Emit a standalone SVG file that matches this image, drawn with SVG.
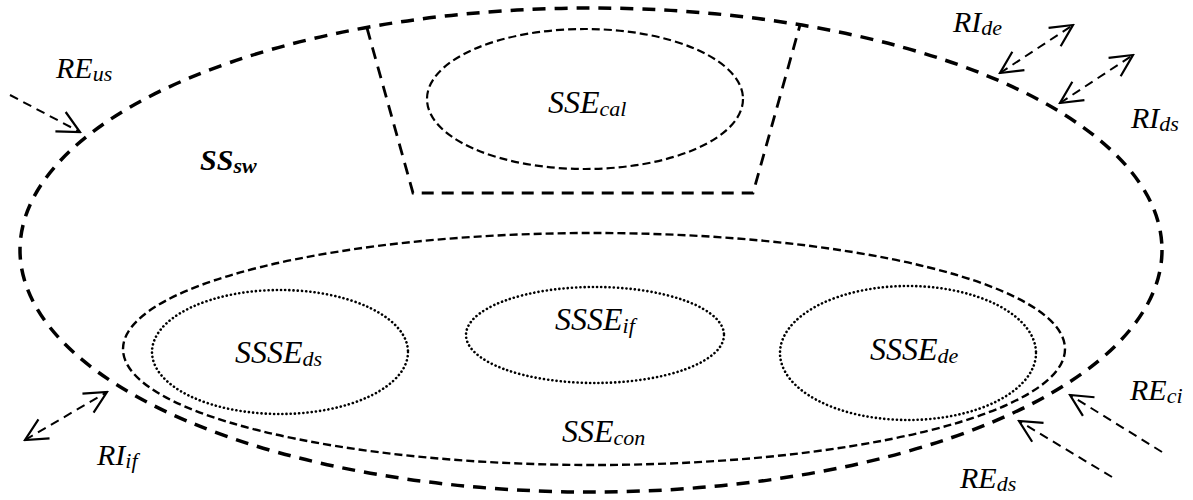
<svg xmlns="http://www.w3.org/2000/svg" width="1193" height="500" viewBox="0 0 1193 500">
<style>
.outer{fill:none;stroke:#000;stroke-width:3.5;stroke-dasharray:13 9}
.trap{fill:none;stroke:#000;stroke-width:2.8;stroke-dasharray:12 8}
.inner{fill:none;stroke:#000;stroke-width:2.4;stroke-dasharray:8 4}
.dot{fill:none;stroke:#000;stroke-width:2.6;stroke-linecap:round;stroke-dasharray:0.1 4.1}
.arr{fill:none;stroke:#000;stroke-width:2;stroke-dasharray:9 6}
text{font-family:"Liberation Serif","Times New Roman",serif;font-style:italic;fill:#000}
.big{font-size:32px}
.out{font-size:30px}
.sub{font-size:22px}
.bold{font-weight:bold}
</style>
<defs>
<marker id="head" viewBox="-25 -13 27 26" markerWidth="27" markerHeight="26" refX="0" refY="0" markerUnits="userSpaceOnUse" orient="auto-start-reverse">
<path d="M-22,-11 L0,0 L-22,11" fill="none" stroke="#000" stroke-width="2.2"/>
</marker>
</defs>
<rect width="1193" height="500" fill="#fff"/>
<g id="SS_sw">
<ellipse class="outer" cx="591" cy="250" rx="571" ry="242"/>
<text x="200" y="170" class="big bold" style="font-size:30px">SS<tspan class="sub" dy="3">sw</tspan></text>
</g>
<g id="SSE_cal">
<polyline class="trap" points="367,28 413,193 753,193 800,25"/>
<ellipse class="inner" cx="585" cy="99" rx="158" ry="70" style="stroke-width:2.2"/>
<text x="548" y="113" class="big">SSE<tspan class="sub" dy="3">cal</tspan></text>
</g>
<g id="SSE_con">
<ellipse class="inner" cx="594" cy="349" rx="471" ry="116"/>
<text x="562" y="442" class="big">SSE<tspan class="sub" dy="3">con</tspan></text>
</g>
<g id="SSSE_ds">
<ellipse class="dot" cx="280" cy="352" rx="128" ry="62"/>
<text x="235" y="363" class="big">SSSE<tspan class="sub" dy="3">ds</tspan></text>
</g>
<g id="SSSE_if">
<ellipse class="dot" cx="595" cy="335" rx="129" ry="48"/>
<text x="555" y="330" class="big">SSSE<tspan class="sub" dy="3">if</tspan></text>
</g>
<g id="SSSE_de">
<ellipse class="dot" cx="908" cy="353" rx="128" ry="67"/>
<text x="870" y="360" class="big">SSSE<tspan class="sub" dy="3">de</tspan></text>
</g>
<g id="connectors">
<line class="arr" x1="10" y1="95" x2="80" y2="132" marker-end="url(#head)"/>
<line class="arr" x1="1000" y1="73" x2="1073" y2="25" marker-start="url(#head)" marker-end="url(#head)"/>
<line class="arr" x1="1060" y1="103" x2="1133" y2="55" marker-start="url(#head)" marker-end="url(#head)"/>
<line class="arr" x1="25" y1="440" x2="107" y2="392" marker-start="url(#head)" marker-end="url(#head)"/>
<line class="arr" x1="1162" y1="452" x2="1070" y2="395" marker-end="url(#head)"/>
<line class="arr" x1="1112" y1="477" x2="1019" y2="421" marker-end="url(#head)"/>
</g>
<g id="labels">
<text x="56" y="78" class="out">RE<tspan class="sub" dy="3">us</tspan></text>
<text x="953" y="32" class="out">RI<tspan class="sub" dy="3">de</tspan></text>
<text x="1131" y="128" class="out">RI<tspan class="sub" dy="3">ds</tspan></text>
<text x="97" y="465" class="out">RI<tspan class="sub" dy="3">if</tspan></text>
<text x="1130" y="400" class="out">RE<tspan class="sub" dy="3">ci</tspan></text>
<text x="960" y="488" class="out">RE<tspan class="sub" dy="3">ds</tspan></text>
</g>
</svg>
